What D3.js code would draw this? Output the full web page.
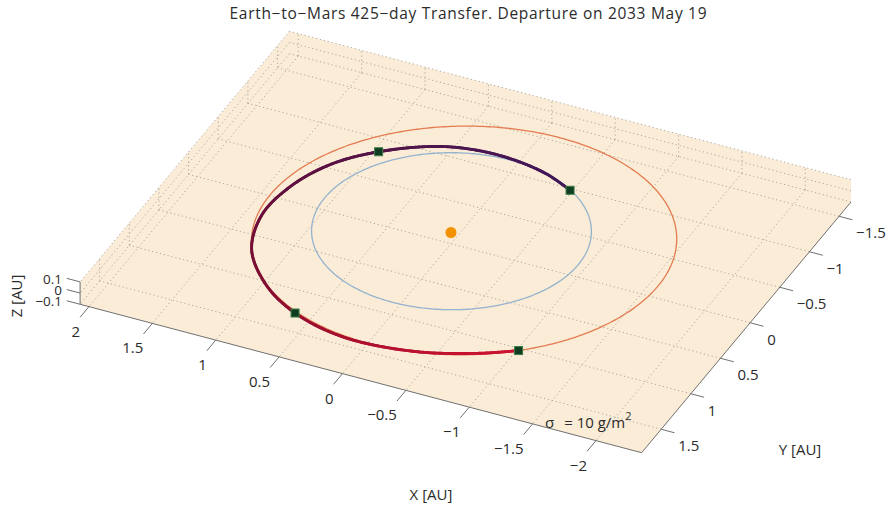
<!DOCTYPE html>
<html><head><meta charset="utf-8">
<script src="https://cdn.jsdelivr.net/npm/d3@7"></script>
<style>
body{margin:0;background:#fff}
svg{display:block}
text{font-family:"Open Sans",sans-serif;fill:#2b2b2b}
</style>
</head><body>
<svg id="chart" width="890" height="506"></svg>
<script>
// ---------------- data ----------------
const titleText = "Earth\u2212to\u2212Mars 425\u2212day Transfer. Departure on 2033 May 19";
const xLimits = [-2.36, 2.07];
const yLimits = [-1.70, 1.83];
const zLimits = [-0.1, 0.1];
const xTicks = [-2, -1.5, -1, -0.5, 0, 0.5, 1, 1.5, 2];
const yTicks = [-1.5, -1, -0.5, 0, 0.5, 1, 1.5];
const zTicks = [-0.1, 0, 0.1];
const axisLabels = ["X [AU]", "Y [AU]", "Z [AU]"];

// planetary orbits (orbital elements)
const planetNames = ["Earth", "Mars"];
const semiMajorAU = [1.0000, 1.5237];
const eccentricity = [0.0167, 0.0934];
const inclinationDeg = [0.0, 1.85];
const ascNodeDeg = [0.0, 49.56];
const perihelionLonDeg = [102.94, 336.04];
const orbitColors = ["#93b3cf", "#e47c52"];

// transfer trajectory: heliocentric longitude (deg, unwrapped) and radius (AU)
const trajLonDeg = [237.5, 252, 268, 284, 300, 321.8, 340, 358, 376, 394, 412, 427.8, 445, 465, 482, 492.9];
const trajRadiusAU = [1.008, 1.012, 1.028, 1.062, 1.100, 1.150, 1.220, 1.286, 1.370, 1.442, 1.482, 1.517, 1.540, 1.538, 1.550, 1.578];
const markerIndex = [0, 5, 11, 15];
const trajColorStops = ["#40195a", "#4a1654", "#521448", "#5e1040", "#7a0e34", "#a30f2e", "#c01230", "#cc1532"];
const sunPosition = [0, 0, 0];
const sigmaValue = 10;

// ---------------- projection (orthographic 3-D view) ----------------
const origin = [451, 232.5];
const sxX = d3.scaleLinear().domain([0, 1]).range([0, -126.75]);
const syX = d3.scaleLinear().domain([0, 1]).range([0, -33.5]);
const sxY = d3.scaleLinear().domain([0, 1]).range([0, -59.3]);
const syY = d3.scaleLinear().domain([0, 1]).range([0, 71]);
const syZ = d3.scaleLinear().domain([0, 1]).range([0, -112]);
function P(x, y, z) {
  return [origin[0] + sxX(x) + sxY(y), origin[1] + syX(x) + syY(y) + syZ(z)];
}
const [x0, x1] = xLimits, [y0, y1] = yLimits, [z0, z1] = zLimits;

const svg = d3.select("#chart");
const line = d3.line();
const FS = 15;

// background (floor + two back walls)
const hull = [P(x1, y1, z0), P(x0, y1, z0), P(x0, y0, z0), P(x0, y0, z1), P(x1, y0, z1), P(x1, y1, z1)];
svg.append("path").attr("d", line(hull) + "Z").attr("fill", "#faecd6").attr("stroke", "none");

// grid lines
const grid = svg.append("g").attr("fill", "none").attr("stroke", "#a5a09a")
  .attr("stroke-width", 0.9).attr("stroke-dasharray", "1.2,2.8");
const gridSegs = [];
xTicks.forEach(x => { gridSegs.push([P(x, y0, z0), P(x, y1, z0)]); gridSegs.push([P(x, y0, z0), P(x, y0, z1)]); });
yTicks.forEach(y => { gridSegs.push([P(x0, y, z0), P(x1, y, z0)]); gridSegs.push([P(x1, y, z0), P(x1, y, z1)]); });
zTicks.forEach(z => { gridSegs.push([P(x0, y0, z), P(x1, y0, z)]); gridSegs.push([P(x1, y0, z), P(x1, y1, z)]); });
grid.selectAll("path").data(gridSegs).join("path").attr("d", d => line(d));

// axes lines
const axisG = svg.append("g").attr("stroke", "#707070").attr("stroke-width", 1).attr("fill", "none");
axisG.append("path").attr("d", line([P(x1, y1, z0), P(x0, y1, z0)]));
axisG.append("path").attr("d", line([P(x0, y1, z0), P(x0, y0, z0)]));
axisG.append("path").attr("d", line([P(x1, y1, z0), P(x1, y1, z1)]));

const fmt = v => d3.format("")(v);
// X ticks
xTicks.forEach(x => {
  const a = P(x, y1, z0), b = P(x, y1 + 0.15, z0);
  axisG.append("path").attr("d", line([a, b]));
  svg.append("text").attr("x", a[0] - 9).attr("y", a[1] + 30).attr("text-anchor", "end")
    .attr("font-size", FS).text(fmt(x));
});
// Y ticks
yTicks.forEach(y => {
  const a = P(x0, y, z0), b = P(x0 - 0.105, y, z0);
  axisG.append("path").attr("d", line([a, b]));
  svg.append("text").attr("x", a[0] + 17).attr("y", a[1] + 22).attr("text-anchor", "start")
    .attr("font-size", FS).text(fmt(y));
});
// Z ticks
zTicks.forEach(z => {
  const a = P(x1, y1, z), b = P(x1 + 0.105, y1, z);
  axisG.append("path").attr("d", line([a, b]));
  svg.append("text").attr("x", a[0] - 18).attr("y", a[1] + 2).attr("text-anchor", "end")
    .attr("font-size", 13.5).text(fmt(z));
});

// axis labels
svg.append("text").attr("x", 431).attr("y", 500).attr("text-anchor", "middle").attr("font-size", FS).text(axisLabels[0]);
svg.append("text").attr("x", 800).attr("y", 455).attr("text-anchor", "middle").attr("font-size", FS).text(axisLabels[1]);
svg.append("text").attr("transform", "translate(22,296) rotate(-90)").attr("text-anchor", "middle")
  .attr("font-size", FS).text(axisLabels[2]);

// title
svg.append("text").attr("x", 468).attr("y", 19).attr("text-anchor", "middle").attr("font-size", 15.5)
  .attr("textLength", 477).attr("lengthAdjust", "spacing")
  .attr("fill", "#333").text(titleText);

// planetary orbits
const rad = Math.PI / 180;
planetNames.forEach((name, k) => {
  const a = semiMajorAU[k], e = eccentricity[k], inc = inclinationDeg[k] * rad;
  const Om = ascNodeDeg[k] * rad, w = (perihelionLonDeg[k] - ascNodeDeg[k]) * rad;
  const pts = d3.range(0, 361, 1).map(nuDeg => {
    const nu = nuDeg * rad;
    const r = a * (1 - e * e) / (1 + e * Math.cos(nu));
    const u = nu + w;
    const X = r * (Math.cos(Om) * Math.cos(u) - Math.sin(Om) * Math.sin(u) * Math.cos(inc));
    const Y = r * (Math.sin(Om) * Math.cos(u) + Math.cos(Om) * Math.sin(u) * Math.cos(inc));
    const Z = r * Math.sin(u) * Math.sin(inc);
    return P(X, Y, Z);
  });
  svg.append("path").attr("d", line(pts)).attr("fill", "none")
    .attr("stroke", orbitColors[k]).attr("stroke-width", 1.3);
});

// sun
const sp = P(...sunPosition);
svg.append("circle").attr("cx", sp[0]).attr("cy", sp[1]).attr("r", 5.5).attr("fill", "#f39200");

// transfer trajectory with colour gradient
const trajPts = trajLonDeg.map((lon, i) => {
  const r = trajRadiusAU[i];
  return P(r * Math.cos(lon * rad), r * Math.sin(lon * rad), 0);
});
const smooth = d3.line().curve(d3.curveCatmullRom.alpha(0.5));
const hidden = svg.append("path").attr("d", smooth(trajPts)).attr("fill", "none").attr("stroke", "none");
const node = hidden.node();
const L = node.getTotalLength();
const N = 400;
const samples = d3.range(N + 1).map(i => { const p = node.getPointAtLength(L * i / N); return [p.x, p.y]; });
const colorAt = d3.interpolateRgbBasis(trajColorStops);
const tg = svg.append("g").attr("fill", "none").attr("stroke-width", 2.9).attr("stroke-linecap", "round");
d3.range(N).forEach(i => {
  tg.append("path").attr("d", line([samples[i], samples[i + 1]])).attr("stroke", colorAt(i / N));
});

// markers
svg.append("g").selectAll("rect").data(markerIndex).join("rect")
  .attr("x", i => trajPts[i][0] - 4).attr("y", i => trajPts[i][1] - 4)
  .attr("width", 8).attr("height", 8)
  .attr("fill", "#0f3d22").attr("stroke", "#3a7d45").attr("stroke-width", 1);

// sail loading annotation
const st = svg.append("text").attr("x", 545).attr("y", 428).attr("font-size", FS);
st.append("tspan").text("\u03c3");
st.append("tspan").attr("dx", 10).text("= " + sigmaValue + " g/m");
st.append("tspan").attr("dy", -8).attr("font-size", 11).text("2");
</script>
</body></html>
